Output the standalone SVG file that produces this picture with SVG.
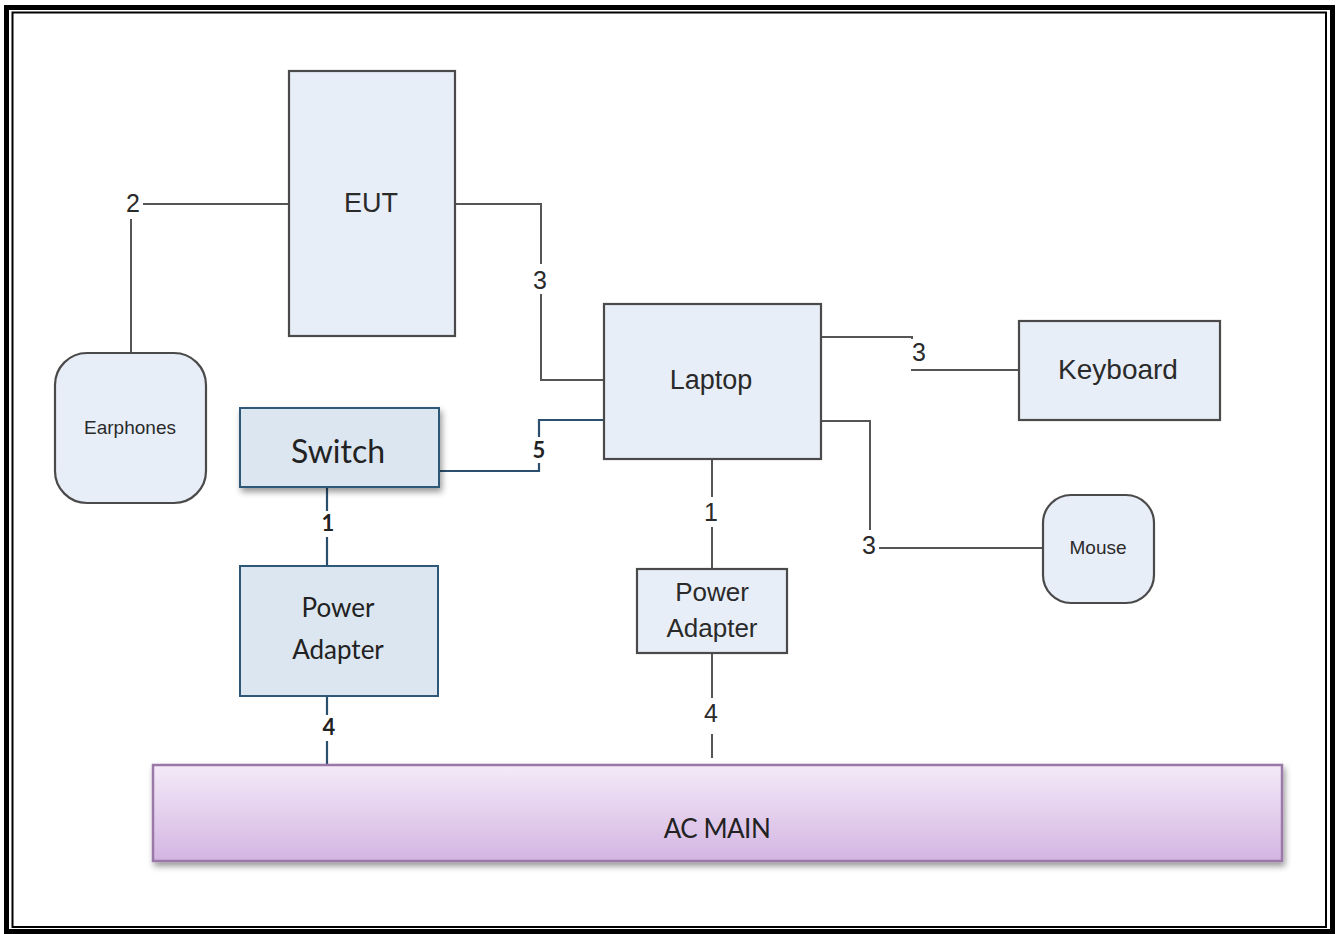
<svg xmlns="http://www.w3.org/2000/svg" width="1336" height="934" viewBox="0 0 1336 934">
<defs>
<style>
.gbox{fill:#e8eef7;stroke:#4a4a4a;stroke-width:2.2}
.bbox{fill:#dce6f1;stroke:#2f5878;stroke-width:2}
.gl{fill:none;stroke:#555;stroke-width:2}
.bl{fill:none;stroke:#2c4f6f;stroke-width:2.2}
.ta{font-family:"Liberation Sans",Arial,sans-serif;fill:#2a2a2a;text-anchor:middle}
.tc{font-family:Lato,"Open Sans",sans-serif;fill:#222;text-anchor:middle}
.lblbg{fill:#fff}
</style>
<linearGradient id="acg" x1="0" y1="0" x2="0" y2="1">
<stop offset="0" stop-color="#f4eaf8"/>
<stop offset="1" stop-color="#d3b5e2"/>
</linearGradient>
<filter id="sh" x="-10%" y="-20%" width="125%" height="150%">
<feDropShadow dx="2" dy="4" stdDeviation="3" flood-color="#000" flood-opacity="0.4"/>
</filter>
</defs>
<rect width="1336" height="934" fill="#fff"/>
<g id="border">
<rect x="6.5" y="7.5" width="1326" height="924" fill="none" stroke="#000" stroke-width="5"/>
<rect x="12.5" y="12.5" width="1313.5" height="914.5" fill="none" stroke="#000" stroke-width="2"/>
</g>
<g id="connectors">
<path class="gl" d="M289,204 H131 V353"/>
<path class="gl" d="M455,204 H541 V380 H604"/>
<path class="bl" d="M439,471 H539 V420 H604"/>
<path class="bl" d="M327,487 V566"/>
<path class="bl" d="M327,696 V765"/>
<path class="gl" d="M712,459 V569"/>
<path class="gl" d="M712,653 V758"/>
<path class="gl" d="M821,337 H912 V370 H1019"/>
<path class="gl" d="M821,421 H870 V548 H1043"/>
<rect class="lblbg" x="123" y="189" width="20" height="30"/>
<text class="ta" x="133" y="212" font-size="25">2</text>
<rect class="lblbg" x="530" y="264" width="20" height="30"/>
<text class="ta" x="540" y="289" font-size="25">3</text>
<rect class="lblbg" x="530" y="437" width="18" height="26"/>
<text class="tc" x="539" y="458" font-size="22" font-weight="bold">5</text>
<rect class="lblbg" x="318" y="511" width="18" height="26"/>
<text class="tc" x="328" y="531" font-size="22" font-weight="bold">1</text>
<rect class="lblbg" x="318" y="715" width="18" height="26"/>
<text class="tc" x="329" y="735" font-size="22" font-weight="bold">4</text>
<rect class="lblbg" x="702" y="497" width="20" height="30"/>
<text class="ta" x="711" y="521" font-size="25">1</text>
<rect class="lblbg" x="702" y="698" width="20" height="36"/>
<text class="ta" x="711" y="722" font-size="25">4</text>
<rect class="lblbg" x="909" y="339" width="20" height="30"/>
<text class="ta" x="919" y="361" font-size="25">3</text>
<rect class="lblbg" x="859" y="530" width="20" height="32"/>
<text class="ta" x="869" y="554" font-size="25">3</text>
</g>
<g id="eut">
<rect class="gbox" x="289" y="71" width="166" height="265"/>
<text class="ta" x="371" y="212" font-size="27">EUT</text>
</g>
<g id="earphones">
<rect class="gbox" x="55" y="353" width="151" height="150" rx="32"/>
<text class="ta" x="130" y="434" font-size="19">Earphones</text>
</g>
<g id="laptop">
<rect class="gbox" x="604" y="304" width="217" height="155"/>
<text class="ta" x="711" y="389" font-size="27">Laptop</text>
</g>
<g id="keyboard">
<rect class="gbox" x="1019" y="321" width="201" height="99"/>
<text class="ta" x="1118" y="379" font-size="28">Keyboard</text>
</g>
<g id="mouse">
<rect class="gbox" x="1043" y="495" width="111" height="108" rx="28"/>
<text class="ta" x="1098" y="554" font-size="19">Mouse</text>
</g>
<g id="switch">
<rect class="bbox" x="240" y="408" width="199" height="79" filter="url(#sh)"/>
<text class="tc" x="338" y="463" font-size="32">Switch</text>
</g>
<g id="power-adapter-1">
<rect class="bbox" x="240" y="566" width="198" height="130" stroke-width="3"/>
<text class="tc" x="338" y="617" font-size="26">Power</text>
<text class="tc" x="338" y="659" font-size="26">Adapter</text>
</g>
<g id="power-adapter-2">
<rect class="gbox" x="637" y="569" width="150" height="84"/>
<text class="ta" x="712" y="601" font-size="26">Power</text>
<text class="ta" x="712" y="637" font-size="26">Adapter</text>
</g>
<g id="ac-main">
<rect x="153" y="765" width="1129" height="96" fill="url(#acg)" stroke="#9a78a8" stroke-width="2.5" filter="url(#sh)"/>
<text class="tc" x="717" y="838" font-size="26" letter-spacing="-0.5">AC MAIN</text>
</g>
</svg>
